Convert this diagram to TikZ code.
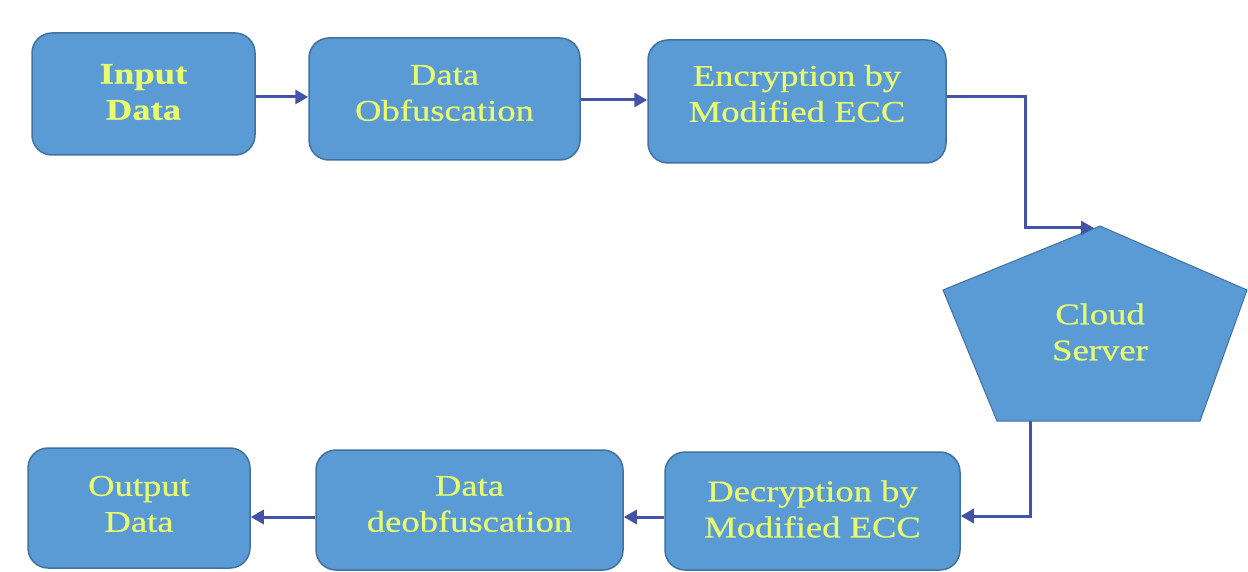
\documentclass[tikz,border=0pt]{standalone}
\usepackage{fontspec}
\setmainfont{Liberation Serif}
\newfontfamily\boxfont[FakeStretch=1.22,FakeBold=0.6]{Liberation Serif}
\usetikzlibrary{arrows.meta}
\definecolor{boxfill}{HTML}{5B9BD5}
\definecolor{boxline}{HTML}{41719C}
\definecolor{boxtext}{HTML}{E8FC6E}
\definecolor{arrcol}{HTML}{4354A6}
\tikzset{
  procbox/.style={draw=boxline, line width=1.5pt, fill=boxfill, rounded corners=20pt, inner sep=0pt},
  boxtxt/.style={text=boxtext, align=center, inner sep=0pt,
    font=\boxfont\fontsize{30}{36}\selectfont},
  arr/.style={draw=arrcol, line width=3pt, -{Triangle[length=13pt,width=14pt]}}
}
\begin{document}
\begin{tikzpicture}[x=1pt,y=-1pt]
\useasboundingbox (0,0) rectangle (1248,572);
% top row
\node[procbox, minimum width=223pt, minimum height=122pt] (in) at (143.5,94) {};
\node[boxtxt] (intxt) at ([yshift=2pt]in.center) {\bfseries Input\\\bfseries Data};
\node[procbox, minimum width=271pt, minimum height=122pt] (obf) at (444.5,99) {};
\node[boxtxt] (obftxt) at ([yshift=6pt]obf.center) {Data\\Obfuscation};
\node[procbox, minimum width=298pt, minimum height=123pt] (enc) at (797,101.5) {};
\node[boxtxt] (enctxt) at ([yshift=8pt]enc.center) {Encryption by\\Modified ECC};
% pentagon
\coordinate (ptop) at (1100,226);
\coordinate (pleft) at (943,290);
\coordinate (pright) at (1247,290);
\coordinate (pbr) at (1200,421);
\coordinate (pbl) at (997,421);
\draw[draw=boxline, line width=1pt, fill=boxfill] (ptop) -- (pright) -- (pbr) -- (pbl) -- (pleft) -- cycle;
\node[boxtxt] (cloud) at (1100,332) {Cloud\\Server};
\coordinate (pout) at (1030,421);
% bottom row
\node[procbox, minimum width=222pt, minimum height=120pt] (out) at (139,508) {};
\node[boxtxt] (outtxt) at ([yshift=4pt]out.center) {Output\\Data};
\node[procbox, minimum width=307pt, minimum height=120pt] (deobf) at (469.5,510) {};
\node[boxtxt] (deobftxt) at ([yshift=6pt]deobf.center) {Data\\deobfuscation};
\node[procbox, minimum width=295pt, minimum height=118pt] (dec) at (812.5,511) {};
\node[boxtxt] (dectxt) at ([yshift=2pt]dec.center) {Decryption by\\Modified ECC};
% connectors
\draw[arr] (in.east |- 0,97) -- (obf.west |- 0,97);
\draw[arr] (obf.east |- 0,100) -- (enc.west |- 0,100);
\coordinate (bend1) at (1025,97);
\coordinate (endtop) at (1094,228);
\draw[arr] (enc.east |- bend1) -- (bend1) |- (endtop);
\coordinate (bend2) at (1030,516);
\draw[arr] (pout) -- (bend2) -- (dec.east |- bend2);
\draw[arr] (dec.west |- 0,517) -- (deobf.east |- 0,517);
\draw[arr] (deobf.west |- 0,517) -- (out.east |- 0,517);
\end{tikzpicture}
\end{document}
